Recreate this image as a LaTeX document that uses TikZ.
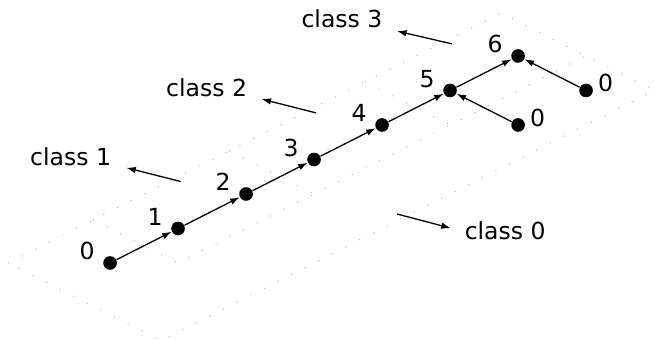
\documentclass[tikz,border=0pt]{standalone}
\usepackage{fontspec}
\setmainfont{DejaVu Sans}
\usetikzlibrary{arrows.meta}

\tikzset{
  vtx/.style={circle,fill=black,inner sep=0pt,minimum size=5.8pt},
  hgt/.style={label={[yshift=5pt]left:#1}},
  leaf/.style={label={[xshift=-1.5pt,yshift=3pt]right:#1}},
  edge/.style={-{Latex[length=4pt,width=2.8pt]},line width=0.55pt},
  region/.style={gray!55,line width=0.45pt,dash pattern=on 0.4pt off 6.1pt},
}

\begin{document}
\begin{tikzpicture}[x={(1.017cm,0.516cm)},y={(1.017cm,-0.516cm)}]
  \useasboundingbox (-1.646cm,-1.137cm) rectangle (8.15cm,3.933cm);

  % class regions (dotted)
  \draw[region] (-0.75,-0.75) -- (6.5,-0.75) -- (6.5,1.5) -- (-0.75,1.5) -- cycle;
  \draw[region] (0.5,-0.75) -- (0.5,0.5) -- (6.5,0.5);
  \draw[region] (2.5,-0.75) -- (2.5,0.5);
  \draw[region] (4.5,-0.75) -- (4.5,0.5);

  % spine and leaves
  \node[vtx,hgt=0] (h0) at (0,0) {};
  \node[vtx,hgt=1] (h1) at (1,0) {};
  \node[vtx,hgt=2] (h2) at (2,0) {};
  \node[vtx,hgt=3] (h3) at (3,0) {};
  \node[vtx,hgt=4] (h4) at (4,0) {};
  \node[vtx,hgt=5] (h5) at (5,0) {};
  \node[vtx,hgt=6] (h6) at (6,0) {};
  \node[vtx,leaf=0] (l5) at (5,1) {};
  \node[vtx,leaf=0] (l6) at (6,1) {};

  \draw[edge] (h0) -- (h1);
  \draw[edge] (h1) -- (h2);
  \draw[edge] (h2) -- (h3);
  \draw[edge] (h3) -- (h4);
  \draw[edge] (h4) -- (h5);
  \draw[edge] (h5) -- (h6);
  \draw[edge] (l5) -- (h5);
  \draw[edge] (l6) -- (h6);

  % class names
  \node (cls0) at (3.37,2.44) {class 0};
  \node (cls1) at (1.25,-1.83) {class 1};
  \node (cls2) at (3.25,-1.83) {class 2};
  \node (cls3) at (5.24,-1.83) {class 3};

  \coordinate (p0) at (2.82,1.4);   \coordinate (q0) at (3.01,2);
  \coordinate (p1) at (1.7,-0.66);  \coordinate (q1) at (1.5,-1.26);
  \coordinate (p2) at (3.69,-0.66); \coordinate (q2) at (3.49,-1.26);
  \coordinate (p3) at (5.69,-0.66); \coordinate (q3) at (5.47,-1.25);
  \draw[edge] (p0) -- (q0);
  \draw[edge] (p1) -- (q1);
  \draw[edge] (p2) -- (q2);
  \draw[edge] (p3) -- (q3);
\end{tikzpicture}
\end{document}
